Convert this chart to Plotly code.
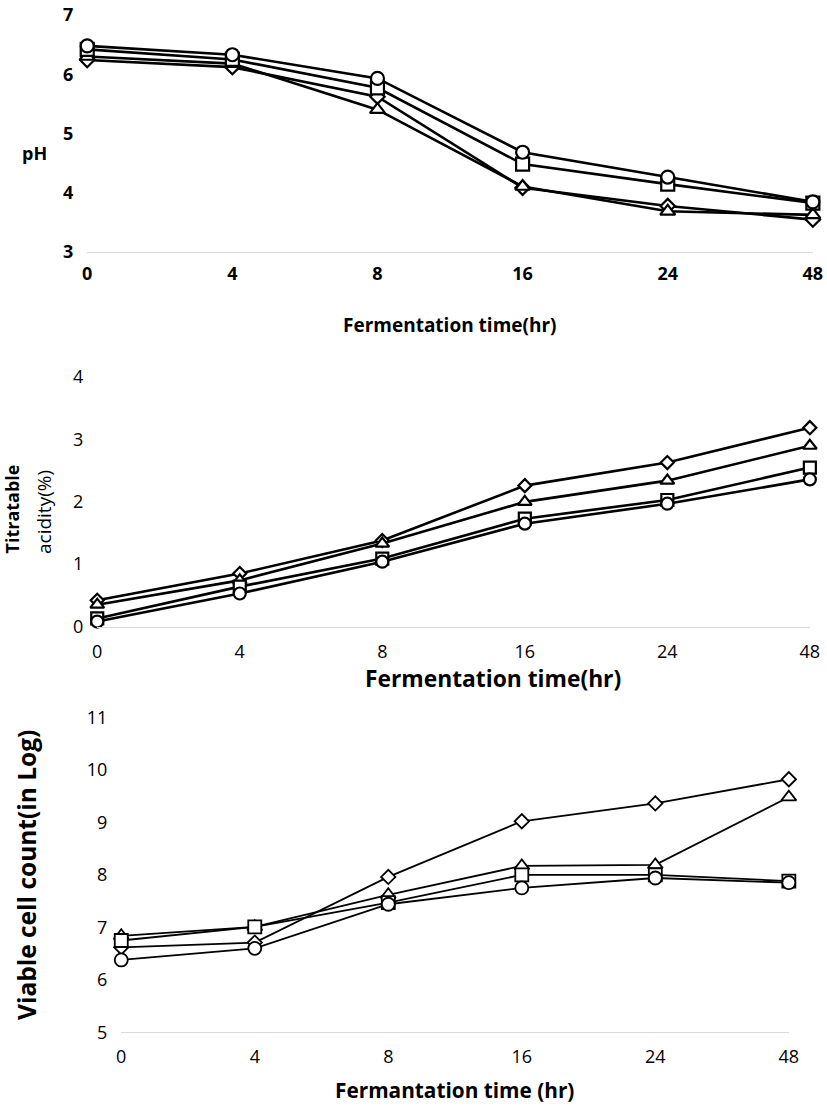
import plotly.graph_objects as go

W, H = 827, 1110
# measured on-screen mapping: screen = K * (figure_px + M)
K, M = 0.981, 8.0
time_labels = ["0", "4", "8", "16", "24", "48"]
xi = list(range(len(time_labels)))

# pH
ph_circle = [6.48, 6.33, 5.93, 4.68, 4.26, 3.84]
ph_square = [6.42, 6.25, 5.77, 4.48, 4.14, 3.82]
ph_triangle = [6.30, 6.18, 5.40, 4.10, 3.68, 3.62]
ph_diamond = [6.24, 6.12, 5.62, 4.08, 3.77, 3.54]

# Titratable acidity
ta_circle = [0.08, 0.53, 1.04, 1.65, 1.97, 2.36]
ta_square = [0.13, 0.64, 1.09, 1.73, 2.03, 2.55]
ta_triangle = [0.35, 0.74, 1.33, 2.00, 2.34, 2.90]
ta_diamond = [0.42, 0.85, 1.38, 2.26, 2.63, 3.19]

# Viable cell count
vc_circle = [6.38, 6.60, 7.44, 7.75, 7.94, 7.85]
vc_square = [6.75, 7.01, 7.47, 8.00, 8.00, 7.88]
vc_triangle = [6.84, 7.01, 7.62, 8.17, 8.19, 9.48]
vc_diamond = [6.62, 6.71, 7.96, 9.02, 9.36, 9.82]

FONT = "Open Sans"

fig = go.Figure()

def fx(s):
    return s / K - M

def px_x(s):
    return fx(s) / W

def px_y(s):
    return 1 - fx(s) / H

panels = [
    dict(series=[ph_diamond, ph_triangle, ph_square, ph_circle],
         x0=90, x1=815, ytop=10, ybot=247, yr=[3, 7], lw=2.6, ms=13, mlw=2.2,
         xstand=6, ystand=13,
         tickfont=dict(family=FONT, size=18, color="black", weight="bold")),
    dict(series=[ta_diamond, ta_triangle, ta_square, ta_circle],
         x0=100, x1=812, ytop=373, ybot=623, yr=[0, 4], lw=2.6, ms=12, mlw=2.2,
         xstand=9, ystand=13,
         tickfont=dict(family=FONT, size=18, color="black")),
    dict(series=[vc_diamond, vc_triangle, vc_square, vc_circle],
         x0=124, x1=791, ytop=714, ybot=1030, yr=[5, 11], lw=1.8, ms=13, mlw=1.8,
         xstand=8, ystand=13,
         tickfont=dict(family=FONT, size=18, color="black")),
]
sym_filled = ["diamond", "triangle-up", "square", "circle"]
names = ["Diamond", "Triangle", "Square", "Circle"]

for i, p in enumerate(panels):
    xa = "x" if i == 0 else f"x{i+1}"
    ya = "y" if i == 0 else f"y{i+1}"
    for s, vals in enumerate(p["series"]):
        ms = p["ms"] - (2 if sym_filled[s] == "diamond" else 0)
        fig.add_trace(go.Scatter(
            x=xi, y=vals, xaxis=xa, yaxis=ya, mode="lines+markers",
            line=dict(color="black", width=p["lw"]),
            marker=dict(symbol=sym_filled[s], size=ms, color="white",
                        line=dict(color="black", width=p["mlw"])),
            cliponaxis=False, showlegend=False, name=names[s]))
    key = "" if i == 0 else str(i + 1)
    fig.layout["xaxis" + key] = dict(
        domain=[px_x(p["x0"]), px_x(p["x1"])], range=[0, 5],
        anchor=ya, tickmode="array", tickvals=xi, ticktext=time_labels,
        showgrid=False, zeroline=False, showline=True, linecolor="#d9d9d9",
        linewidth=1.2, ticks="", ticklabelstandoff=p["xstand"], tickfont=p["tickfont"])
    fig.layout["yaxis" + key] = dict(
        domain=[px_y(p["ybot"]), px_y(p["ytop"])], range=p["yr"],
        anchor=xa, dtick=1, showgrid=False, zeroline=False, showline=False,
        ticks="", ticklabelstandoff=p["ystand"], tickfont=p["tickfont"])

ann = [
    dict(text="<b>pH</b>", x=37, y=148, size=18, angle=0),
    dict(text="<b>Fermentation time(hr)</b>", x=452, y=321, size=19, angle=0),
    dict(text="<b>Titratable</b>", x=14.5, y=505, size=18, angle=-90),
    dict(text="acidity(%)", x=47, y=508, size=19, angle=-90),
    dict(text="<b>Fermentation time(hr)</b>", x=495, y=675, size=22.8, angle=0),
    dict(text="<b>Viable cell count(in Log)</b>", x=30, y=872, size=24.5, angle=-90),
    dict(text="<b>Fermantation time (hr)</b>", x=457, y=1088, size=20.8, angle=0),
]
for a in ann:
    fig.add_annotation(text=a["text"], x=px_x(a["x"]), y=px_y(a["y"]),
                       xref="paper", yref="paper", showarrow=False,
                       textangle=a["angle"], xanchor="center", yanchor="middle",
                       font=dict(family=FONT, size=a["size"], color="black"))

fig.update_layout(width=W, height=H, margin=dict(l=0, r=0, t=0, b=0),
                  paper_bgcolor="white", plot_bgcolor="white")
fig.write_html("out.html")
